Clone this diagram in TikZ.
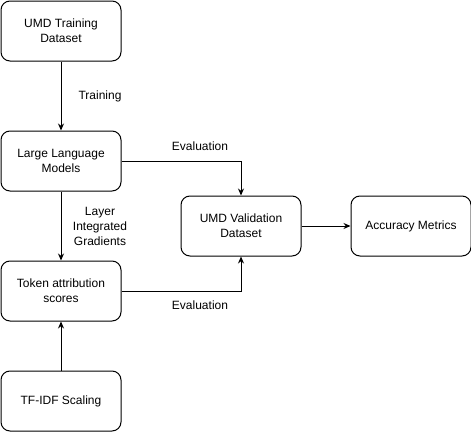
\documentclass[tikz,border=0pt]{standalone}
\usepackage{fontspec}
\setmainfont{Liberation Sans}
\usetikzlibrary{arrows.meta,positioning}

\begin{document}
\begin{tikzpicture}[x=1pt,y=-1pt,font=\fontsize{12}{15}\selectfont,>={Stealth[length=7pt,width=6pt]},
 box/.style={draw,rounded corners=9pt,minimum width=120pt,minimum height=60pt,align=center,line width=1pt},
 lab/.style={align=center},
 flow/.style={->,line width=1pt}]
 \useasboundingbox (0,0) rectangle (471,431);
 \node[box] (train) at (61,31) {UMD Training\\Dataset};
 \node[box] (llm) at (61,161) {Large Language\\Models};
 \node[box] (tok) at (61,291) {Token attribution\\scores};
 \node[box] (tfidf) at (61,401) {TF-IDF Scaling};
 \node[box] (val) at (241,226) {UMD Validation\\Dataset};
 \node[box] (acc) at (411,226) {Accuracy Metrics};
 \draw[flow] (train)--(llm);
 \node[lab] (ltrain) at (100,96) {Training};
 \draw[flow] (llm)--(tok);
 \node[lab] (lgrad) at (100,226) {Layer\\Integrated\\Gradients};
 \draw[flow] (tfidf)--(tok);
 \draw[flow] (llm.east)-|(val.north);
 \node[lab] (levala) at (200,146) {Evaluation};
 \draw[flow] (tok.east)-|(val.south);
 \node[lab] (levalb) at (200,305) {Evaluation};
 \draw[flow] (val)--(acc);
\end{tikzpicture}
\end{document}
